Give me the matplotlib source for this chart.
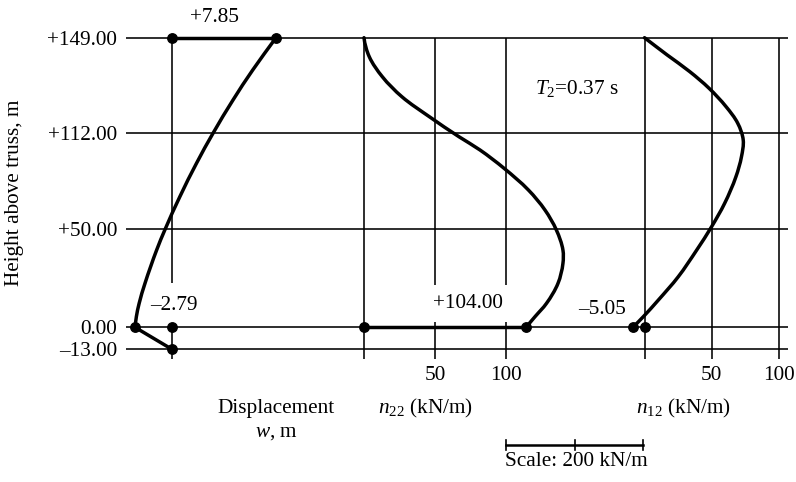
import numpy as np
import matplotlib
matplotlib.use('Agg')
import matplotlib.pyplot as plt
import matplotlib.transforms as mtransforms
from matplotlib.lines import Line2D
from matplotlib.path import Path
from matplotlib.patches import PathPatch

plt.rcParams['font.family'] = ['Liberation Serif', 'DejaVu Serif']
plt.rcParams['mathtext.fontset'] = 'custom'
plt.rcParams['mathtext.rm'] = 'Liberation Serif'
plt.rcParams['mathtext.it'] = 'Liberation Serif:italic'

# ---------------- data ----------------
levels = [149, 112, 50, 0, -13]
level_labels = ['+149.00', '+112.00', '+50.00', '0.00', '\u201313.00']

# displacement w (m) vs height (m)
w_height = [149, 136.4, 124.7, 112, 92.4, 70.9, 50, 39.4, 22.4, 12.2, 5.4, 0]
w_values = [7.85, 6.09, 4.60, 3.12, 1.85, 0.59, -0.52, -1.16, -2.04, -2.48, -2.69, -2.79]
w_truss_height, w_truss_value = -13, 0.0
w_top, w_base = 7.85, -2.79

# n22 (kN/m) vs height
n22_height = [149, 141.6, 133.8, 126.0, 118.2, 109.4, 100.9, 89.1, 75.2, 62.3, 49.6, 39.4, 32.6,
              22.4, 12.2, 5.4, 0]
n22_values = [0, 3.7, 12.9, 26.7, 46.1, 66.9, 81.7, 98.7, 115.8, 127.5, 135.5, 140.1, 140.1,
              136.6, 128.5, 120.4, 114.1]
n22_grid = [50, 100]

# n12 (kN/m) vs height
n12_height = [149, 142.3, 135.8, 129.3, 122.1, 115.7, 107.3, 96.6, 83.8, 66.7, 51.7, 39.4,
              25.8, 13.9, 5.4, 0]
n12_values = [0, 16.8, 33.6, 48.0, 60.7, 69.3, 73.4, 72.1, 68.0, 59.6, 49.9, 38.8,
              25.1, 10.3, -0.9, -8.6]
n12_grid = [50, 100]

label_7_85 = '+7.85'
label_2_79 = '\u20132.79'
label_104 = '+104.00'
label_5_05 = '\u20135.05'

# ---------------- layout ----------------
W, H, DPI = 796, 482, 100
fig = plt.figure(figsize=(W / DPI, H / DPI), dpi=DPI)

def fx(x):
    return x / W

def fy(y):
    return 1 - y / H

# schematic height axis: piecewise-linear mapping height -> pixel
level_px = [37.7, 132.7, 229.3, 327.3, 349.3]
HK = np.array(sorted(levels), dtype=float)
PK = np.array([H - p for p in level_px][::-1])
lo_slope = (PK[1] - PK[0]) / (HK[1] - HK[0])
hi_slope = (PK[-1] - PK[-2]) / (HK[-1] - HK[-2])
HK = np.concatenate([[-100.0], HK, [300.0]])
PK = np.concatenate([[PK[0] - lo_slope * (HK[1] + 100)], PK, [PK[-1] + hi_slope * (300 - HK[-2])]])

def fwd(h):
    return np.interp(h, HK, PK)

def inv(p):
    return np.interp(p, PK, HK)

h_lo, h_hi = -25.0, 160.0
ax_bottom = float(fwd(h_lo))
ax_height = float(fwd(h_hi) - fwd(h_lo))

def make_axes(left_px, width_px, xlim):
    ax = fig.add_axes([fx(left_px), ax_bottom / H, width_px / W, ax_height / H])
    ax.set_yscale('function', functions=(fwd, inv))
    ax.set_ylim(h_lo, h_hi)
    ax.set_xlim(*xlim)
    ax.patch.set_alpha(0)
    for s in ax.spines.values():
        s.set_visible(False)
    ax.set_xticks([])
    ax.set_yticks([])
    return ax

LW_GRID = 1.15
LW_CURVE = 2.5
MS = 6.8
FS = 15.3

def smooth_curve(ax, xs, hs, px_per_unit, start_tangent=None):
    """Draw a smooth curve through the read points (chord-length cubic Bezier)."""
    P = np.column_stack([np.asarray(xs, float) * px_per_unit, fwd(np.asarray(hs, float))])
    n = len(P)
    d = np.linalg.norm(np.diff(P, axis=0), axis=1)
    T = np.zeros_like(P)
    for i in range(n):
        if i == 0:
            t = np.asarray(start_tangent, float) if start_tangent is not None else P[1] - P[0]
        elif i == n - 1:
            t = P[-1] - P[-2]
        else:
            t = (P[i + 1] - P[i]) / d[i] + (P[i] - P[i - 1]) / d[i - 1]
        T[i] = t / np.linalg.norm(t)
    verts = [P[0]]
    codes = [Path.MOVETO]
    for i in range(n - 1):
        verts += [P[i] + T[i] * d[i] / 3.0, P[i + 1] - T[i + 1] * d[i] / 3.0, P[i + 1]]
        codes += [Path.CURVE4] * 3
    V = np.array(verts)
    V = np.column_stack([V[:, 0] / px_per_unit, inv(V[:, 1])])
    patch = PathPatch(Path(V, codes), facecolor='none', edgecolor='black', lw=LW_CURVE,
                      joinstyle='round', capstyle='round', clip_on=False, zorder=3)
    ax.add_patch(patch)

# background axes: level lines + y tick labels
ax_bg = make_axes(126, 788 - 126, (0, 1))
for lv in levels:
    ax_bg.axhline(lv, color='black', lw=LW_GRID, zorder=1)
ax_bg.set_yticks(levels)
ax_bg.set_yticklabels(level_labels, fontsize=FS)
ax_bg.yaxis.set_minor_locator(matplotlib.ticker.NullLocator())
ax_bg.tick_params(axis='y', length=0, pad=6.5)

tick_end = -18.7
gap_top, gap_bot = 21.6, 2.7

# ---- displacement panel ----
w_zero_px, w_scale = 172, 13.25
w_xlim = (-3.5, 8.5)
ax_w = make_axes(w_zero_px + w_xlim[0] * w_scale, (w_xlim[1] - w_xlim[0]) * w_scale, w_xlim)
ax_w.vlines(0, 22.6, 149, color='black', lw=LW_GRID)
ax_w.vlines(0, tick_end, 0, color='black', lw=LW_GRID)
smooth_curve(ax_w, w_values, w_height, w_scale)
ax_w.plot([w_values[-1], w_truss_value], [w_height[-1], w_truss_height], color='black',
          lw=LW_CURVE, clip_on=False, solid_capstyle='round', zorder=3)
ax_w.plot([0, w_top], [149, 149], color='black', lw=LW_CURVE, clip_on=False, zorder=3)
ax_w.plot([0, w_top, w_base, 0, w_truss_value], [149, 149, 0, 0, w_truss_height], 'o',
          color='black', ms=MS, clip_on=False, zorder=4)

# ---- n22 panel ----
n22_zero_px, n22_scale = 364, 1.42
n22_xlim = (-20, 150)
ax_22 = make_axes(n22_zero_px + n22_xlim[0] * n22_scale, (n22_xlim[1] - n22_xlim[0]) * n22_scale, n22_xlim)
ax_22.vlines(0, tick_end, 149, color='black', lw=LW_GRID)
for g in n22_grid:
    ax_22.vlines(g, gap_top, 149, color='black', lw=LW_GRID)
    ax_22.vlines(g, tick_end, gap_bot, color='black', lw=LW_GRID)
smooth_curve(ax_22, n22_values, n22_height, n22_scale, start_tangent=(0.12, -1.0))
ax_22.plot([0, n22_values[-1]], [0, 0], color='black', lw=LW_CURVE, clip_on=False, zorder=3)
ax_22.plot([0, n22_values[-1]], [0, 0], 'o', color='black', ms=MS, clip_on=False, zorder=4)

# ---- n12 panel ----
n12_zero_px, n12_scale = 644.5, 1.345
n12_xlim = (-20, 110)
ax_12 = make_axes(n12_zero_px + n12_xlim[0] * n12_scale, (n12_xlim[1] - n12_xlim[0]) * n12_scale, n12_xlim)
ax_12.vlines(0, tick_end, 149, color='black', lw=LW_GRID)
for g in n12_grid:
    ax_12.vlines(g, tick_end, 149, color='black', lw=LW_GRID)
smooth_curve(ax_12, n12_values, n12_height, n12_scale)
ax_12.plot([n12_values[-1], 0], [0, 0], 'o', color='black', ms=MS, clip_on=False, zorder=4)

# ---- x tick labels ----
for ax, grid in ((ax_22, n22_grid), (ax_12, n12_grid)):
    tr = mtransforms.blended_transform_factory(ax.transData, fig.transFigure)
    for g in grid:
        ax.text(g, fy(376), f'{g}', transform=tr, ha='center', va='center', fontsize=FS)

# ---- texts ----
fig.text(fx(215), fy(17), label_7_85, ha='center', va='center', fontsize=FS)
fig.text(fx(174), fy(305), label_2_79, ha='center', va='center', fontsize=FS)
fig.text(fx(468), fy(303), label_104, ha='center', va='center', fontsize=FS)
fig.text(fx(602), fy(309), label_5_05, ha='center', va='center', fontsize=FS)
fig.text(fx(535), fy(94), r'$T_2$=0.37 s', ha='left', va='baseline', fontsize=FS)

fig.text(fx(425), fy(408), r'$n_{22}$ (kN/m)', ha='center', va='center', fontsize=FS)
fig.text(fx(683), fy(408), r'$n_{12}$ (kN/m)', ha='center', va='center', fontsize=FS)
fig.text(fx(276), fy(409), 'Displacement', ha='center', va='center', fontsize=FS)
fig.text(fx(276), fy(433), r'$w$, m', ha='center', va='center', fontsize=FS)
fig.text(fx(15), fy(193), 'Height above truss, m', ha='center', va='center', rotation=90,
         fontsize=FS)

# scale bar
fig.add_artist(Line2D([fx(506), fx(643)], [fy(445), fy(445)], color='black', lw=1.8,
                      transform=fig.transFigure))
for xx in (506, 575, 643):
    fig.add_artist(Line2D([fx(xx), fx(xx)], [fy(440), fy(450)], color='black', lw=1.2,
                          transform=fig.transFigure))
fig.text(fx(576), fy(462), 'Scale: 200 kN/m', ha='center', va='center', fontsize=FS)

fig.savefig('out.png', dpi=DPI, facecolor='white')
